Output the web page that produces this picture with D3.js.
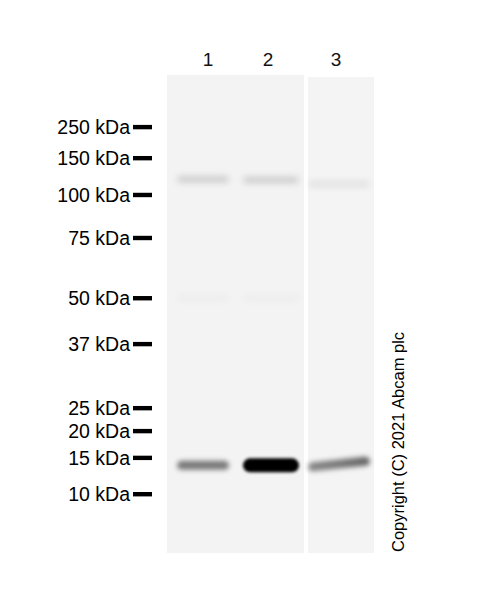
<!DOCTYPE html>
<html><head><meta charset="utf-8">
<script src="https://cdn.jsdelivr.net/npm/d3@7"></script>
<style>body{margin:0;background:#fff}svg{display:block}</style>
</head><body><svg id="c" width="488" height="600"></svg>
<script>
// ---- data ----
const markerKDa = [250, 150, 100, 75, 50, 37, 25, 20, 15, 10];
const markerLabels = ["250 kDa", "150 kDa", "100 kDa", "75 kDa", "50 kDa", "37 kDa", "25 kDa", "20 kDa", "15 kDa", "10 kDa"];
const markerMobility = [0.109, 0.174, 0.251, 0.341, 0.467, 0.563, 0.697, 0.745, 0.801, 0.877];
const lanes = ["1", "2", "3"];
const bandLane = ["1", "2", "3", "1", "2", "3", "1", "2"];
const bandKDa = [13.8, 13.8, 14.0, 119, 118, 113, 50, 50];
const bandIntensity = [0.5, 1.0, 0.6, 0.15, 0.15, 0.07, 0.025, 0.025];
const copyright = "Copyright (C) 2021 Abcam plc";

// ---- layout ----
const gelTop = 75, gelBottom = 553;
const panels = [{x: 167, w: 137, lanes: ["1", "2"], top: 75, fill: "#f3f3f3"},
                {x: 308, w: 66, lanes: ["3"], top: 77, fill: "#f4f4f4"}];
const laneHalf = {"1": 26, "2": 28, "3": 31};
const font = "'Liberation Sans', Arial, sans-serif";

const svg = d3.select("#c");
const defs = svg.append("defs");
[["blurS", 1.7], ["blurM", 2.7], ["blurL", 3.2]].forEach(([id, s]) => {
  defs.append("filter").attr("id", id).attr("x", "-30%").attr("y", "-100%").attr("width", "160%").attr("height", "300%")
    .append("feGaussianBlur").attr("stdDeviation", s);
});
const g3 = defs.append("linearGradient").attr("id", "grad3");
g3.append("stop").attr("offset", "0%").attr("stop-color", "#000").attr("stop-opacity", 0.75);
g3.append("stop").attr("offset", "50%").attr("stop-color", "#000").attr("stop-opacity", 0.85);
g3.append("stop").attr("offset", "100%").attr("stop-color", "#000").attr("stop-opacity", 1);

// scales
const yMob = d3.scaleLinear().domain([0, 1]).range([gelTop, gelBottom]);
const kdaToMob = d3.scaleLog().domain(markerKDa).range(markerMobility);
const y = d => yMob(kdaToMob(d));
const xLane = d3.scalePoint().domain(lanes).range([203, 339]);

// panels
svg.selectAll("rect.panel").data(panels).join("rect")
  .attr("class", "panel")
  .attr("x", d => d.x).attr("y", d => d.top)
  .attr("width", d => d.w).attr("height", d => gelBottom - d.top)
  .attr("fill", d => d.fill);

// bands
const bands = bandLane.map((l, i) => ({lane: l, kda: bandKDa[i], v: bandIntensity[i]}));
const bandG = svg.append("g");
bands.forEach(b => {
  const cx = xLane(b.lane), cy = y(b.kda), hw = laneHalf[b.lane];
  const strong = b.v > 0.8;
  const low = b.kda < 30;
  const hh = low ? (strong ? 7 : 4.5) : 3.5;
  const el = bandG.append("rect")
    .attr("x", cx - hw).attr("y", cy - hh)
    .attr("width", hw * 2).attr("height", hh * 2)
    .attr("rx", hh).attr("ry", hh)
    .attr("fill", b.lane === "3" && low ? "url(#grad3)" : "#000")
    .attr("fill-opacity", b.v)
    .attr("filter", strong ? "url(#blurS)" : (low ? "url(#blurM)" : "url(#blurL)"));
  if (b.lane === "3" && low) el.attr("transform", `rotate(-6 ${cx} ${cy})`);
});

// lane labels
svg.selectAll("text.lane").data(lanes).join("text")
  .attr("class", "lane")
  .attr("x", d => xLane(d) + (d === "1" ? 5 : -3))
  .attr("y", 66)
  .attr("text-anchor", "middle")
  .attr("font-family", font).attr("font-size", 19)
  .attr("fill", "#111")
  .text(d => d);

// markers
const markers = markerKDa.map((k, i) => ({k, label: markerLabels[i]}));
svg.selectAll("rect.tick").data(markers).join("rect")
  .attr("class", "tick")
  .attr("x", 133).attr("width", 19)
  .attr("y", d => y(d.k) - 2.2).attr("height", 4.4)
  .attr("fill", "#000");
svg.selectAll("text.mk").data(markers).join("text")
  .attr("class", "mk")
  .attr("x", 130).attr("y", d => y(d.k) + 7)
  .attr("text-anchor", "end")
  .attr("font-family", font).attr("font-size", 19.5)
  .attr("fill", "#000")
  .text(d => d.label);

// copyright
svg.append("text")
  .attr("transform", "translate(404,552) rotate(-90)")
  .attr("font-family", font).attr("font-size", 16.5)
  .attr("fill", "#000")
  .text(copyright);
</script>
</body></html>
